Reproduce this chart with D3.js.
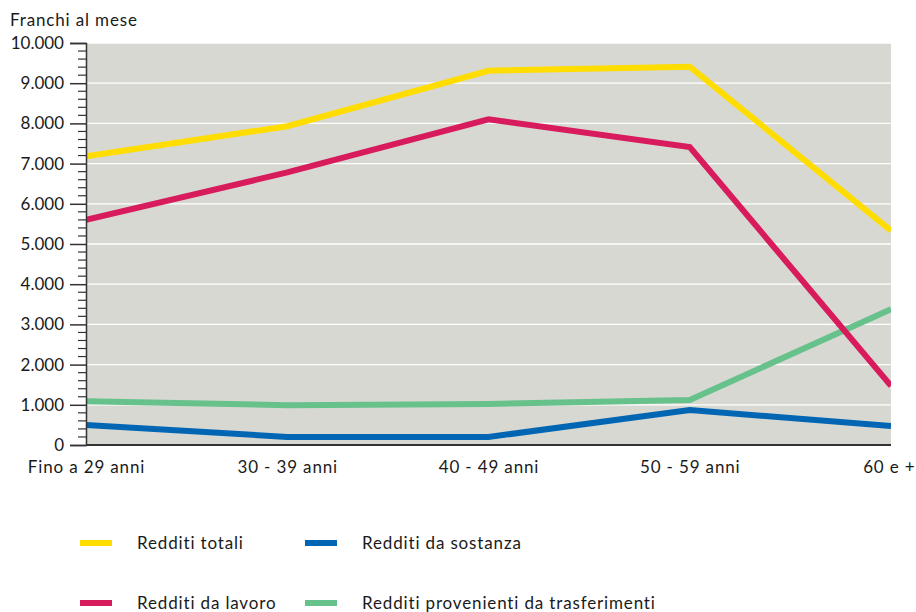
<!DOCTYPE html>
<html>
<head>
<meta charset="utf-8">
<script src="https://cdn.jsdelivr.net/npm/d3@7"></script>
<style>
  html, body { margin: 0; padding: 0; background: #ffffff; }
  svg { display: block; }
  text { font-family: Lato, "Open Sans", sans-serif; fill: #1a1a1a; }
</style>
</head>
<body>
<svg id="chart" width="916" height="612"></svg>
<script>
// Age groups along the x axis
const categories = ["Fino a 29 anni", "30 - 39 anni", "40 - 49 anni", "50 - 59 anni", "60 e +"];

// Monthly income (francs) per age group
const redditiTotali = [7180, 7930, 9310, 9410, 5330];
const redditiLavoro = [5600, 6780, 8100, 7410, 1470];
const redditiSostanza = [500, 200, 200, 870, 470];
const redditiTrasferimenti = [1090, 990, 1020, 1120, 3380];

const yTicks = [0, 1000, 2000, 3000, 4000, 5000, 6000, 7000, 8000, 9000, 10000];
const yTitle = "Franchi al mese";

const series = [
  { name: "Redditi totali", values: redditiTotali, color: "#FFDD00" },
  { name: "Redditi da lavoro", values: redditiLavoro, color: "#D81B5C" },
  { name: "Redditi da sostanza", values: redditiSostanza, color: "#0066B3" },
  { name: "Redditi provenienti da trasferimenti", values: redditiTrasferimenti, color: "#66C18B" }
];

const width = 916;
const svg = d3.select("#chart");
const plotL = 86, plotR = 891, plotT = 43, plotB = 445;
const wordSpacing = "0.85px";

const x = d3.scalePoint().domain(categories).range([plotL, plotR]);
const y = d3.scaleLinear().domain([0, 10000]).range([plotB, plotT]);

const fmt = v => v === 0 ? "0" : d3.format(",")(v).replace(/,/g, ".");

// Plot background
svg.append("rect")
  .attr("x", plotL).attr("y", plotT)
  .attr("width", plotR - plotL).attr("height", plotB - plotT)
  .attr("fill", "#D8D8D2");

// Horizontal gridlines
svg.append("g").selectAll("line")
  .data(yTicks.filter(d => d > 0))
  .join("line")
  .attr("x1", plotL).attr("x2", plotR)
  .attr("y1", d => y(d)).attr("y2", d => y(d))
  .attr("stroke", "#ffffff").attr("stroke-width", 1.3);

// Lines (clipped to the plot area)
svg.append("clipPath").attr("id", "plotClip")
  .append("rect").attr("x", plotL).attr("y", plotT - 10)
  .attr("width", plotR - plotL).attr("height", plotB - plotT + 20);

const line = d3.line()
  .x((d, i) => x(categories[i]))
  .y(d => y(d));

const order = [series[3], series[2], series[1], series[0]];
svg.append("g").attr("clip-path", "url(#plotClip)")
  .selectAll("path")
  .data(order)
  .join("path")
  .attr("d", d => line(d.values))
  .attr("fill", "none")
  .attr("stroke", d => d.color)
  .attr("stroke-width", 6)
  .attr("stroke-linejoin", "miter");

// Y axis with major and minor ticks
const yAxis = d3.axisLeft(y).tickValues(yTicks).tickFormat(fmt).tickSize(16).tickPadding(6);
const gy = svg.append("g").attr("transform", `translate(${plotL},0)`).call(yAxis);
gy.select(".domain").attr("stroke", "#333").attr("stroke-width", 1.5);
gy.selectAll(".tick line").attr("stroke", "#333").attr("stroke-width", 1.5);
gy.selectAll(".tick text").attr("font-size", 17).attr("font-family", "Lato, sans-serif").attr("fill", "#1a1a1a");

const minor = d3.range(0, 10001, 200).filter(v => v % 1000 !== 0);
svg.append("g").selectAll("line")
  .data(minor)
  .join("line")
  .attr("x1", plotL - 8).attr("x2", plotL)
  .attr("y1", d => y(d)).attr("y2", d => y(d))
  .attr("stroke", "#333").attr("stroke-width", 1.2);

// Bottom baseline
svg.append("line")
  .attr("x1", plotL).attr("x2", plotR)
  .attr("y1", plotB).attr("y2", plotB)
  .attr("stroke", "#333").attr("stroke-width", 1.8);

// X category labels
const xAxis = d3.axisBottom(x).tickSize(0).tickPadding(16);
const gx = svg.append("g").attr("transform", `translate(0,${plotB})`).call(xAxis);
gx.select(".domain").remove();
gx.selectAll(".tick text")
  .attr("font-size", 17).attr("font-family", "Lato, sans-serif").attr("fill", "#1a1a1a")
  .attr("letter-spacing", wordSpacing);
// keep the last label inside the right edge
gx.selectAll(".tick text")
  .filter(d => d === categories[categories.length - 1])
  .attr("text-anchor", "end")
  .attr("x", width - 1 - plotR);

// Y title
svg.append("text")
  .attr("x", 10).attr("y", 26)
  .attr("font-size", 17)
  .attr("letter-spacing", wordSpacing)
  .text(yTitle);

// Legend
const legendPos = [
  { s: series[0], x: 80, y: 543 },
  { s: series[2], x: 305, y: 543 },
  { s: series[1], x: 80, y: 603 },
  { s: series[3], x: 305, y: 603 }
];
const lg = svg.append("g").selectAll("g").data(legendPos).join("g")
  .attr("transform", d => `translate(${d.x},${d.y})`);
lg.append("line")
  .attr("x1", 0).attr("x2", 32).attr("y1", 0).attr("y2", 0)
  .attr("stroke", d => d.s.color).attr("stroke-width", 6);
lg.append("text")
  .attr("x", 57).attr("y", 6)
  .attr("font-size", 17)
  .attr("letter-spacing", wordSpacing)
  .text(d => d.s.name);
</script>
</body>
</html>
